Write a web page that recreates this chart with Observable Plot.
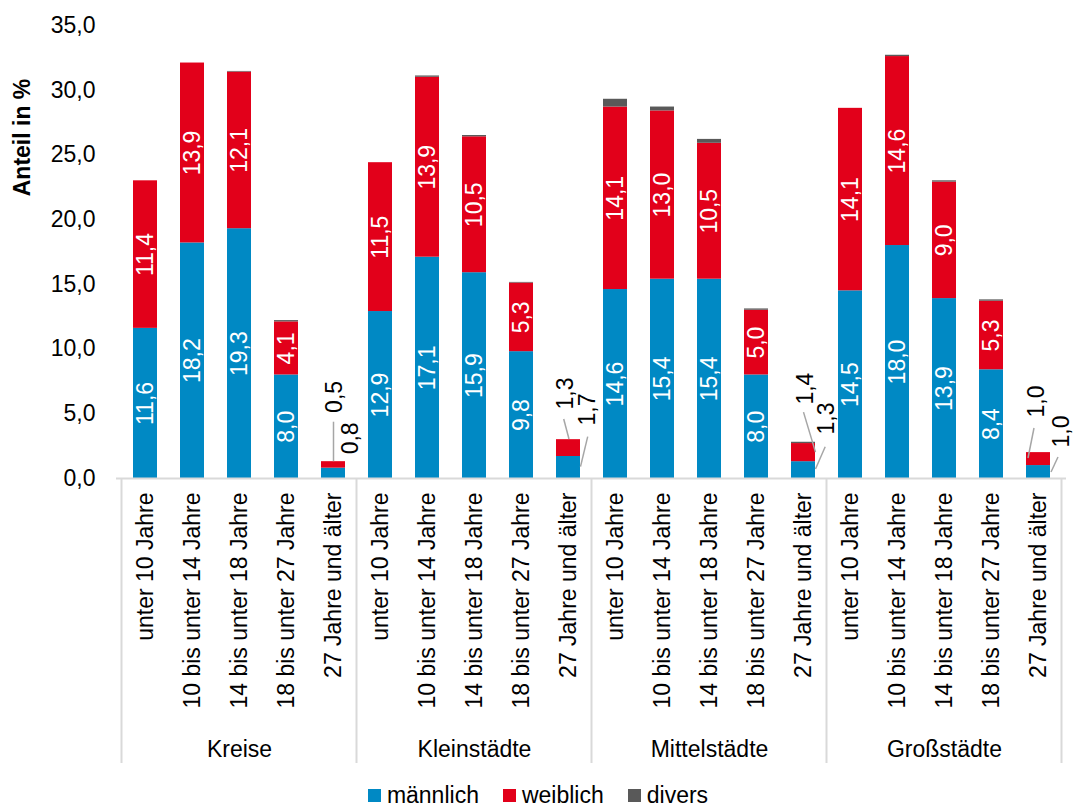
<!DOCTYPE html>
<html><head><meta charset="utf-8">
<script src="https://cdn.jsdelivr.net/npm/d3@7"></script>
<script src="https://cdn.jsdelivr.net/npm/@observablehq/plot@0.6"></script>
<style>
html,body{margin:0;background:#fff;font-family:"Liberation Sans",Arial,sans-serif;overflow:hidden;}
#chart svg{display:block;}
#legend{display:flex;justify-content:center;align-items:center;height:24px;line-height:24px;font-size:23px;color:#000;}
.item{display:flex;align-items:center;margin:0 12px;}
.sw{width:13px;height:13px;margin-right:6px;}
</style></head><body><div id="chart"></div><div id="legend"></div>
<script>
// ---- data ----
const groups = ["Kreise", "Kleinstädte", "Mittelstädte", "Großstädte"];
const ages = ["unter 10 Jahre", "10 bis unter 14 Jahre", "14 bis unter 18 Jahre", "18 bis unter 27 Jahre", "27 Jahre und älter"];
const seriesNames = ["männlich", "weiblich", "divers"];
const maennlich = [11.6, 18.2, 19.3, 8.0, 0.8,  12.9, 17.1, 15.9, 9.8, 1.7,  14.6, 15.4, 15.4, 8.0, 1.3,  14.5, 18.0, 13.9, 8.4, 1.0];
const weiblich  = [11.4, 13.9, 12.1, 4.1, 0.5,  11.5, 13.9, 10.5, 5.3, 1.3,  14.1, 13.0, 10.5, 5.0, 1.4,  14.1, 14.6, 9.0, 5.3, 1.0];
const divers    = [0.0, 0.0, 0.05, 0.1, 0.0,    0.0, 0.1, 0.1, 0.05, 0.0,    0.6, 0.3, 0.3, 0.1, 0.1,    0.0, 0.1, 0.1, 0.1, 0.0];
const yTicks = [0, 5, 10, 15, 20, 25, 30, 35];

// ---- layout / style config ----
const colors = {"männlich": "#0089C4", "weiblich": "#E2001A", "divers": "#595959"};
const W = 1076, H = 783, mL = 116, mR = 10, mT = 25, mB = 305;
// callout labels for the small "27 Jahre und älter" bars (offsets in px from bar centre / segment middle)
const callouts = [
  {g: "Kreise", s: "weiblich", dx: 1.5, dy: -68, line: [0.5, -42.7, 0.5, -3.2]},
  {g: "Kreise", s: "männlich", dx: 17, dy: -35, line: null},
  {g: "Kleinstädte", s: "weiblich", dx: -3, dy: -54.6, line: [-4.3, -28.6, 1, -8.6]},
  {g: "Kleinstädte", s: "männlich", dx: 19.5, dy: -58, line: [19.7, -30.3, 12.5, -0.3]},
  {g: "Mittelstädte", s: "weiblich", dx: 2.5, dy: -64, line: [0.5, -40, 12.5, 0]},
  {g: "Mittelstädte", s: "männlich", dx: 23.5, dy: -51.6, line: [22.2, -22.9, 12.5, -0.6]},
  {g: "Großstädte", s: "weiblich", dx: -2, dy: -57.6, line: [-4, -30.6, -10, -0.6]},
  {g: "Großstädte", s: "männlich", dx: 23, dy: -40.5, line: [20, -14.5, 13, 0.5]}
];

const fmt = v => v.toFixed(1).replace(".", ",");
const keyOf = (g, a) => g + "|" + a;
const keys = groups.flatMap(g => ages.map(a => keyOf(g, a)));
const seriesVals = {"männlich": maennlich, "weiblich": weiblich, "divers": divers};

const rows = [];
groups.forEach((g, gi) => ages.forEach((a, ai) => {
  const i = gi * ages.length + ai;
  let acc = 0;
  seriesNames.forEach(s => {
    const v = seriesVals[s][i];
    rows.push({key: keyOf(g, a), group: g, age: a, ai, series: s, value: v, y1: acc, y2: acc + v, mid: acc + v / 2});
    acc += v;
  });
}));
const inLabels = rows.filter(r => r.ai !== 4 && r.series !== "divers");
const findRow = (g, s) => rows.find(r => r.group === g && r.ai === 4 && r.series === s);

const groupLabelRows = groups.map(g => ({key: keyOf(g, ages[2]), group: g}));

const marks = [
  Plot.barY(rows, {x: "key", y1: "y1", y2: "y2", fill: d => colors[d.series]}),
  Plot.ruleY([0], {stroke: "#d9d9d9", strokeWidth: 2}),
  Plot.text(inLabels, {x: "key", y: "mid", text: d => fmt(d.value), rotate: -90, fill: "white", fontSize: 23}),
  Plot.text(groupLabelRows, {x: "key", y: () => 0, text: "group", dy: 271, fill: "black", fontSize: 23}),
  Plot.text(["Anteil in %"], {frameAnchor: "top-left", textAnchor: "middle", lineAnchor: "middle", text: d => d, dx: -94, dy: 112, rotate: -90, fontWeight: "bold", fill: "black", fontSize: 23}),
  ...callouts.map(c => {
    const r = findRow(c.g, c.s);
    return Plot.text([r], {x: "key", y: "mid", text: d => fmt(d.value), rotate: -90, dx: c.dx, dy: c.dy, fill: "black", fontSize: 23});
  })
];

const chart = Plot.plot({
  width: W, height: H,
  marginLeft: mL, marginRight: mR, marginTop: mT, marginBottom: mB,
  style: {fontFamily: "'Liberation Sans', Arial, sans-serif", fontSize: "23px", color: "black", background: "white"},
  x: {domain: keys, paddingInner: 0.49, paddingOuter: 0.245, tickRotate: -90, tickSize: 0, tickPadding: 14, tickFormat: k => k.split("|")[1], label: null},
  y: {domain: [0, 35], ticks: yTicks, tickFormat: fmt, tickSize: 0, tickPadding: 21, label: null},
  marks
});

// separators and leader lines drawn from the plot's own scales
const xs = chart.scale("x"), ys = chart.scale("y");
const bw = xs.bandwidth, step = xs.step, gap = (step - bw) / 2;
const svg = d3.select(chart);
const y0 = ys.apply(0);
const sepX = groups.map(g => xs.apply(keyOf(g, ages[0])) - gap);
sepX.push(xs.apply(keyOf(groups[groups.length - 1], ages[ages.length - 1])) + bw + gap);
svg.append("g").selectAll("line").data(sepX).join("line")
  .attr("x1", d => d).attr("x2", d => d).attr("y1", y0).attr("y2", 763)
  .attr("stroke", "#d9d9d9").attr("stroke-width", 2);
svg.append("g").selectAll("line").data(callouts.filter(c => c.line)).join("line")
  .each(function(c) {
    const r = findRow(c.g, c.s);
    const bx = xs.apply(r.key) + bw / 2, by = ys.apply(r.mid);
    d3.select(this).attr("x1", bx + c.line[0]).attr("y1", by + c.line[1]).attr("x2", bx + c.line[2]).attr("y2", by + c.line[3]);
  })
  .attr("stroke", "#a6a6a6").attr("stroke-width", 1.5);

document.getElementById("chart").appendChild(chart);

const legend = d3.select("#legend");
seriesNames.forEach(s => {
  const it = legend.append("div").attr("class", "item");
  it.append("div").attr("class", "sw").style("background", colors[s]);
  it.append("span").text(s);
});
</script></body></html>
